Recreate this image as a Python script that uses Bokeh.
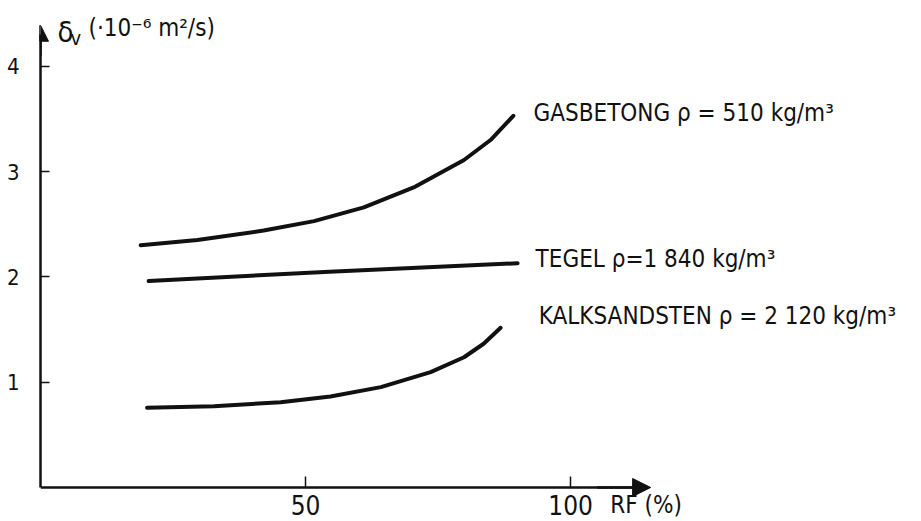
from bokeh.plotting import figure
from bokeh.models import Range1d, Label, Arrow, NormalHead, FixedTicker
from bokeh.embed import file_html
from bokeh.resources import INLINE

# ---- data ----
gas_x = [18.9, 29.6, 42.1, 51.6, 61.0, 70.4, 79.9, 84.9, 89.2]
gas_y = [2.30, 2.35, 2.44, 2.53, 2.66, 2.85, 3.11, 3.30, 3.53]

teg_x = [20.4, 54.5, 90.0]
teg_y = [1.96, 2.05, 2.13]

kalk_x = [20.1, 32.7, 45.3, 54.7, 64.2, 73.6, 79.9, 83.6, 86.8]
kalk_y = [0.757, 0.772, 0.810, 0.864, 0.953, 1.095, 1.237, 1.365, 1.517]

curve_labels = ["GASBETONG ρ = 510 kg/m³", "TEGEL ρ=1 840 kg/m³", "KALKSANDSTEN ρ = 2 120 kg/m³"]
x_ticks = [50, 100]
y_ticks = [1, 2, 3, 4]

FONT = "DejaVu Sans Condensed"
INK = "#111111"

p = figure(width=921, height=521, output_backend="svg", toolbar_location=None,
           x_range=Range1d(0, 166.2), y_range=Range1d(-0.323, 4.625),
           min_border_left=40, min_border_right=0, min_border_top=0, min_border_bottom=0)
p.outline_line_color = None
p.xgrid.visible = False
p.ygrid.visible = False
p.background_fill_color = "white"
p.border_fill_color = "white"

for ax in (p.xaxis[0], p.yaxis[0]):
    ax.axis_line_width = 2.5
    ax.axis_line_color = INK
    ax.major_tick_out = 0
    ax.minor_tick_line_color = None
    ax.major_tick_line_color = INK
    ax.major_tick_line_width = 1.5
    ax.major_label_text_font = FONT
    ax.major_label_text_color = INK

p.xaxis.fixed_location = 0
p.xaxis.ticker = FixedTicker(ticks=x_ticks)
p.xaxis.bounds = (0, 112)
p.xaxis.major_tick_in = 11
p.xaxis.major_label_text_font_size = "26px"
p.xaxis.major_label_standoff = 8

p.yaxis.ticker = FixedTicker(ticks=y_ticks)
p.yaxis.bounds = (0, 4.3)
p.yaxis.major_tick_in = 9
p.yaxis.major_label_text_font_size = "22px"
p.yaxis.major_label_standoff = 21

# axis arrow heads
p.add_layout(Arrow(end=NormalHead(size=18, fill_color=INK, line_color=INK),
                   x_start=105, y_start=0, x_end=115.1, y_end=0,
                   line_color=INK, line_width=2.5))
p.add_layout(Arrow(end=NormalHead(size=16, fill_color=INK, line_color=INK),
                   x_start=0, y_start=4.1, x_end=0, y_end=4.39,
                   line_color=INK, line_width=2.5))

# curves
for xs, ys in ((gas_x, gas_y), (teg_x, teg_y), (kalk_x, kalk_y)):
    p.line(xs, ys, line_width=4, line_color=INK, line_cap="round", line_join="round")

# curve labels
for txt, lx, ly in zip(curve_labels, [93.0, 93.4, 94.0], [3.561, 2.174, 1.633]):
    p.add_layout(Label(x=lx, y=ly, text=txt, text_font=FONT, text_font_size="24px",
                       text_color=INK, text_baseline="alphabetic", text_align="left"))

# y axis title
p.add_layout(Label(x=3.2, y=4.33, text="δ", text_font=FONT, text_font_size="29px",
                   text_color=INK, text_baseline="alphabetic"))
p.add_layout(Label(x=5.66, y=4.265, text="v", text_font=FONT, text_font_size="20px",
                   text_color=INK, text_baseline="alphabetic"))
p.add_layout(Label(x=9.06, y=4.365, text="(·10⁻⁶ m²/s)", text_font=FONT, text_font_size="24px",
                   text_color=INK, text_baseline="alphabetic"))

# x axis title
p.add_layout(Label(x=107.5, y=-0.17, text="RF (%)", text_font=FONT, text_font_size="24px",
                   text_color=INK, text_baseline="alphabetic"))

open("out.html", "w").write(file_html(p, INLINE))
